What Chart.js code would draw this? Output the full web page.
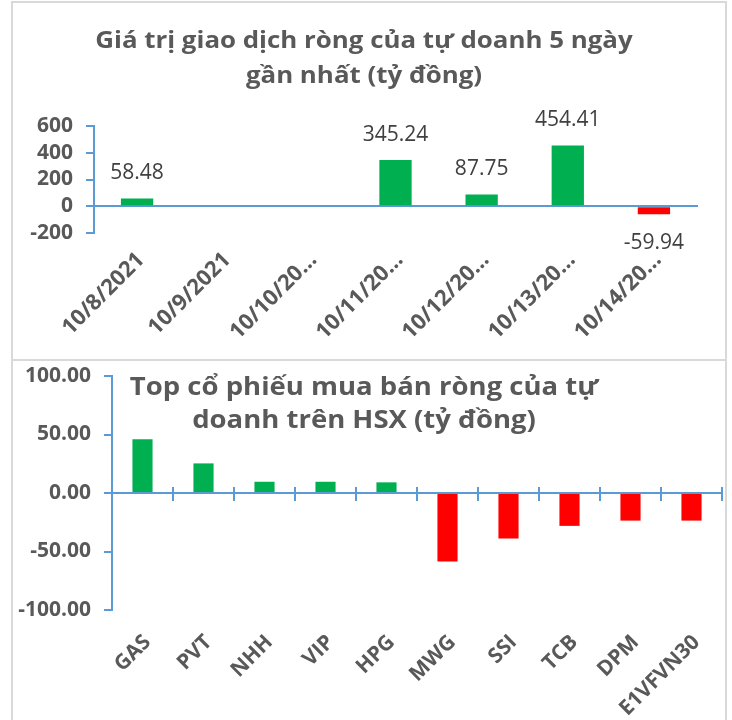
<!DOCTYPE html>
<html>
<head>
<meta charset="utf-8">
<script src="https://cdn.jsdelivr.net/npm/chart.js@4.4.0/dist/chart.umd.min.js"></script>
<style>
  body { margin: 0; background: #fff; }
  #wrap { position: relative; width: 732px; height: 720px; overflow: hidden; }
  .box { position: absolute; left: 11px; width: 712px; border: 2px solid #d9d9d9; }
  .title { position: absolute; left: 0; width: 728px; text-align: center; color: #595959;
           font-family: "Open Sans", sans-serif; font-weight: bold; transform-origin: 364px 0; }
  canvas { position: absolute; }
</style>
</head>
<body>
<div id="wrap">
  <div class="box" style="top:1px;height:356px;"></div>
  <div class="box" style="top:359px;height:400px;"></div>
  <canvas id="dayChart" style="left:12px;top:3px;" width="712" height="356"></canvas>
  <canvas id="stockChart" style="left:12px;top:362px;" width="712" height="358"></canvas>
  <div class="title" style="top:22px;font-size:23px;line-height:35px;transform:scaleX(1.125);">Giá trị giao dịch ròng của tự doanh 5 ngày<br>gần nhất (tỷ đồng)</div>
  <div class="title" style="top:369px;font-size:25px;line-height:33px;transform:scaleX(1.1);">Top cổ phiếu mua bán ròng của tự<br>doanh trên HSX (tỷ đồng)</div>
</div>
<script>
// chart 1 - net value of proprietary trading, last days
const days = ['10/8/2021', '10/9/2021', '10/10/20…', '10/11/20…', '10/12/20…', '10/13/20…', '10/14/20…'];
const dayValues = [58.48, null, null, 345.24, 87.75, 454.41, -59.94];
const dayTicks = [-200, 0, 200, 400, 600];

// chart 2 - top stocks on HSX
const stocks = ['GAS', 'PVT', 'NHH', 'VIP', 'HPG', 'MWG', 'SSI', 'TCB', 'DPM', 'E1VFVN30'];
const stockValues = [46, 25.3, 9.6, 9.6, 9.1, -58.5, -38.9, -28.1, -23.6, -23.6];
const stockTicks = [-100, -50, 0, 50, 100];

const GREEN = '#00b050';
const RED = '#ff0000';
const AXIS = '#5b9bd5';
const TXT = '#595959';

function barColors(vals) {
    return vals.map(v => (v < 0 ? RED : GREEN));
}

// draws the value above / below each bar (no datalabels plugin offline)
const valueLabels = {
    id: 'valueLabels',
    afterDatasetsDraw(chart, args, opts) {
        if (!opts.show) return;
        const c = chart.ctx;
        const meta = chart.getDatasetMeta(0);
        const vals = chart.data.datasets[0].data;
        c.save();
        c.font = '21px "Open Sans", sans-serif';
        c.fillStyle = '#404040';
        c.textAlign = 'center';
        c.textBaseline = 'middle';
        meta.data.forEach((bar, i) => {
            const v = vals[i];
            if (v === null) return;
            const y = v >= 0 ? bar.y - 25.5 : bar.y + 28.7;
            c.fillText(v.toFixed(2), bar.x, y);
        });
        c.restore();
    }
};

function yAxis(ticksArr, fmt, width, size) {
    return {
        min: ticksArr[0],
        max: ticksArr[ticksArr.length - 1],
        afterBuildTicks: s => { s.ticks = ticksArr.map(v => ({ value: v })); },
        afterFit: s => {
            s.width = width;
            // let the layout padding alone decide where the plot starts
            s.paddingTop = 0;
            s.paddingBottom = 0;
        },
        grid: { drawOnChartArea: false, drawTicks: true, tickLength: 8, tickColor: AXIS, color: AXIS, lineWidth: 2 },
        border: { display: true, color: AXIS, width: 2 },
        ticks: {
            autoSkip: false,
            padding: 13,
            color: TXT,
            font: { family: '"Open Sans", sans-serif', size: size, weight: 'bold' },
            callback: fmt
        }
    };
}

function labelAxis(size, pad, height, shift) {
    return {
        offset: true,
        afterFit: s => { s.height = height; },
        grid: { display: false },
        border: { display: false },
        ticks: {
            autoSkip: false, minRotation: 45, maxRotation: 45, padding: pad, labelOffset: shift, color: TXT,
            font: { family: '"Open Sans", sans-serif', size: size, weight: 'bold' }
        }
    };
}

// category axis sitting on the value 0 line; only border + tick marks
function zeroAxis(tickLen, showBorder) {
    return {
        type: 'category',
        axis: 'x',
        position: { y: 0 },
        offset: true,
        afterFit: s => { s.height = 0; },
        grid: { display: tickLen !== 0, offset: true, drawOnChartArea: false, drawTicks: true,
                tickLength: tickLen, tickColor: AXIS, lineWidth: 2 },
        border: { display: showBorder, color: AXIS, width: 2 },
        ticks: { display: false }
    };
}

new Chart(document.getElementById('dayChart'), {
    type: 'bar',
    data: {
        labels: days,
        datasets: [{
            data: dayValues,
            backgroundColor: barColors(dayValues.map(v => v || 0)),
            categoryPercentage: 1,
            barPercentage: 0.375
        }]
    },
    options: {
        responsive: false,
        animation: false,
        layout: { padding: { top: 123, right: 27, left: 0, bottom: 0 } },
        plugins: { legend: { display: false }, tooltip: { enabled: false }, valueLabels: { show: true } },
        scales: {
            x: labelAxis(22, 6, 126, 4),
            zero: zeroAxis(0, true),
            y: yAxis(dayTicks, v => v, 82, 21)
        }
    },
    plugins: [valueLabels]
});

new Chart(document.getElementById('stockChart'), {
    type: 'bar',
    data: {
        labels: stocks,
        datasets: [{
            data: stockValues,
            backgroundColor: barColors(stockValues),
            categoryPercentage: 1,
            barPercentage: 0.33
        }]
    },
    options: {
        responsive: false,
        animation: false,
        layout: { padding: { top: 14, right: 2, left: 0, bottom: 0 } },
        plugins: { legend: { display: false }, tooltip: { enabled: false }, valueLabels: { show: false } },
        scales: {
            x: labelAxis(21, 12, 110, 5),
            zero: zeroAxis(7, true),
            zeroUp: zeroAxis(-6, false),
            y: yAxis(stockTicks, v => Number(v).toFixed(2), 100, 21)
        }
    },
    plugins: [valueLabels]
});
</script>
</body>
</html>
